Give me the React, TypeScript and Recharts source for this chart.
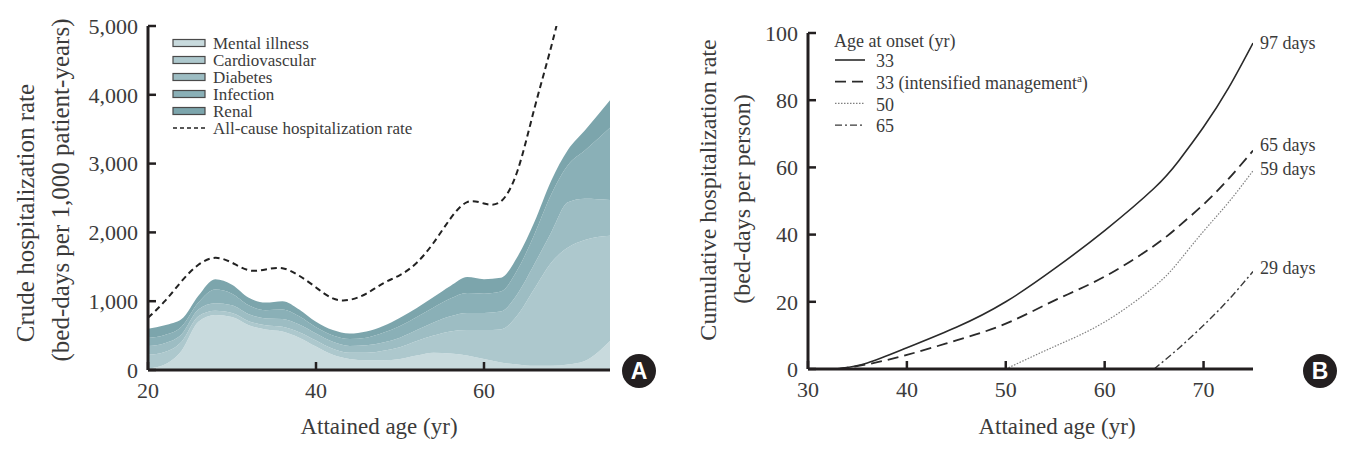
import { Area, AreaChart, Legend, Line, LineChart, XAxis, YAxis } from 'recharts';

// Panel A: crude hospitalization rate by cause (stacked), bed-days per 1,000 patient-years
const ages = [20, 22, 24, 26, 28, 30, 32, 34, 36, 38, 40, 42, 44, 46, 48, 50, 52, 54, 56, 58, 60, 62, 64, 66, 68, 70, 72, 75];
const mentalIllness = [20, 80, 280, 700, 800, 770, 650, 590, 560, 470, 340, 220, 160, 140, 140, 160, 210, 250, 240, 210, 160, 110, 80, 60, 60, 80, 130, 420];
const cardiovascular = [200, 180, 130, 80, 60, 60, 60, 60, 70, 80, 90, 90, 90, 110, 140, 170, 210, 250, 320, 370, 420, 480, 720, 1120, 1500, 1700, 1760, 1530];
const diabetes = [130, 130, 110, 100, 110, 110, 100, 100, 110, 110, 100, 100, 100, 110, 120, 140, 160, 190, 220, 250, 250, 260, 310, 360, 440, 660, 600, 520];
const infection = [115, 120, 110, 100, 200, 170, 130, 120, 140, 120, 90, 90, 100, 110, 140, 170, 190, 220, 260, 290, 280, 290, 350, 430, 550, 540, 700, 1050];
const renal = [135, 140, 110, 100, 150, 130, 110, 110, 120, 100, 80, 80, 80, 90, 100, 120, 130, 150, 180, 230, 210, 200, 190, 180, 200, 220, 290, 400];
const allCause = [760, 1000, 1290, 1530, 1630, 1560, 1450, 1460, 1480, 1370, 1200, 1040, 1020, 1110, 1260, 1380, 1560, 1850, 2200, 2440, 2420, 2450, 2900, 3800, 4700, 5700, null, null];

const causeKeys = ['mental', 'cardio', 'diabetes', 'infection', 'renal'];
const causeNames = ['Mental illness', 'Cardiovascular', 'Diabetes', 'Infection', 'Renal'];
const causeColors = ['#c8dadd', '#adc8cd', '#9dbdc3', '#8ab0b7', '#7ca5ac'];
const allCauseName = 'All-cause hospitalization rate';

const xTicksA = [20, 40, 60];
const yTicksA = [0, 1000, 2000, 3000, 4000, 5000];

// Panel B: cumulative hospitalization rate, bed-days per person
const attainedAges = [33, 36, 40, 45, 50, 55, 60, 65, 67.5, 70, 72.5, 75];
const onset33 = [0, 1.8, 6.3, 12.4, 20, 30, 41.2, 53.8, 62, 72, 83.5, 97];
const onset33Intensified = [0, 1.4, 4.2, 8.5, 13.5, 20.5, 27.5, 36.7, 42.5, 49, 56.5, 65];
const onset50 = [null, null, null, null, 0, 6.8, 14, 24.5, 32, 41, 49.5, 59];
const onset65 = [null, null, null, null, null, null, null, 0, 6.2, 13, 20.5, 29];

const onsetNames = ['33', '33 (intensified management', '50', '65'];
const onsetKeys = ['o33', 'o33i', 'o50', 'o65'];
const onsetDash = ['', '11 6', '1.5 1.5', '7 3 2 3'];
const onsetStroke = ['#2a2a2a', '#2a2a2a', '#808080', '#3a3a3a'];
const onsetWidth = [1.6, 1.8, 1.2, 1.4];
const endLabelShift = [0, -6, -2, -4];

const xTicksB = [30, 40, 50, 60, 70];
const yTicksB = [0, 20, 40, 60, 80, 100];

const serif = "'Liberation Serif', 'Times New Roman', serif";
const textColor = '#3b3b3b';
const axisColor = '#231f20';

const dataA = ages.map((age, i) => ({
  age,
  mental: mentalIllness[i],
  cardio: cardiovascular[i],
  diabetes: diabetes[i],
  infection: infection[i],
  renal: renal[i],
  allCause: allCause[i],
}));

const dataB = attainedAges.map((age, i) => ({
  age,
  o33: onset33[i],
  o33i: onset33Intensified[i],
  o50: onset50[i],
  o65: onset65[i],
}));

const tickStyle = { fill: textColor, fontSize: 22, fontFamily: serif };

function TwoLineTitle({ lines, xs, ys, size }: { lines: string[]; xs: number[]; ys: number[]; size: number }) {
  return (
    <g>
      {lines.map((t, i) => (
        <text
          key={t}
          x={xs[i]}
          y={ys[i]}
          transform={`rotate(-90 ${xs[i]} ${ys[i]})`}
          textAnchor="middle"
          dominantBaseline="central"
          fill={textColor}
          fontSize={size}
          fontFamily={serif}
        >
          {t}
        </text>
      ))}
    </g>
  );
}

function XTitle({ x, text }: { x: number; text: string }) {
  return (
    <text x={x} y={434} textAnchor="middle" fill={textColor} fontSize={23} fontFamily={serif}>
      {text}
    </text>
  );
}

function LegendA() {
  return (
    <svg width={280} height={110} style={{ display: 'block' }}>
      {causeNames.map((name, i) => (
        <g key={name}>
          <rect x={3} y={11 + 17 * i - 3.5} width={32} height={7} fill={causeColors[i]} stroke="#4a4a4a" strokeWidth={1.2} />
          <text x={43} y={11 + 17 * i} dy="0.35em" fill={textColor} fontSize={17} fontFamily={serif}>
            {name}
          </text>
        </g>
      ))}
      <line x1={3} x2={35} y1={96} y2={96} stroke="#222" strokeWidth={1.5} strokeDasharray="4 3" />
      <text x={43} y={96} dy="0.35em" fill={textColor} fontSize={17} fontFamily={serif}>
        {allCauseName}
      </text>
    </svg>
  );
}

function LegendB() {
  return (
    <svg width={280} height={110} style={{ display: 'block' }}>
      <text x={0} y={13} dy="0.35em" fill={textColor} fontSize={18} fontFamily={serif}>
        Age at onset (yr)
      </text>
      {onsetNames.map((name, i) => (
        <g key={name}>
          <line
            x1={1}
            x2={31}
            y1={32 + 21.7 * i}
            y2={32 + 21.7 * i}
            stroke={onsetStroke[i]}
            strokeWidth={onsetWidth[i]}
            strokeDasharray={onsetDash[i] || undefined}
          />
          <text x={42} y={33 + 21.7 * i} dy="0.35em" fill={textColor} fontSize={18} fontFamily={serif}>
            {name}
            {i === 1 ? (
              <>
                <tspan fontSize={11} dy="-7">a</tspan>
                <tspan dy="7">)</tspan>
              </>
            ) : null}
          </text>
        </g>
      ))}
    </svg>
  );
}

const makeEndLabel = (shift: number) => (props: any) => {
  const { x, y, value, index } = props;
  if (index !== attainedAges.length - 1 || value == null) return null;
  return (
    <text x={x + 7} y={y + shift} dy="0.35em" fill={textColor} fontSize={18} fontFamily={serif}>
      {`${value} days`}
    </text>
  );
};

function Badge({ left, letter }: { left: number; letter: string }) {
  return (
    <div
      style={{
        position: 'absolute',
        left: left - 17,
        top: 371 - 17,
        width: 34,
        height: 34,
        borderRadius: '50%',
        background: '#231f20',
        color: '#fff',
        fontFamily: "'Liberation Sans', Arial, sans-serif",
        fontWeight: 700,
        fontSize: 23,
        lineHeight: '34px',
        textAlign: 'center',
      }}
    >
      {letter}
    </div>
  );
}

export default function App() {
  return (
    <div style={{ position: 'absolute', left: 0, top: 0, width: 1351, height: 449, background: '#fff' }}>
      <div style={{ position: 'absolute', left: 0, top: 0 }}>
        <AreaChart width={640} height={449} data={dataA} margin={{ top: 26, right: 30, left: 0, bottom: 0 }}>
          <XAxis
            type="number"
            dataKey="age"
            domain={[20, 75]}
            ticks={xTicksA}
            allowDataOverflow
            height={79}
            tick={tickStyle}
            tickSize={-8}
            tickMargin={20}
            axisLine={{ stroke: axisColor, strokeWidth: 3 }}
            tickLine={{ stroke: axisColor, strokeWidth: 2.5 }}
            label={{ content: () => <XTitle x={379} text="Attained age (yr)" /> }}
          />
          <YAxis
            type="number"
            domain={[0, 5000]}
            ticks={yTicksA}
            allowDataOverflow
            width={148}
            tick={tickStyle}
            tickFormatter={(v: number) => v.toLocaleString('en-US')}
            tickSize={-8}
            tickMargin={18}
            axisLine={{ stroke: axisColor, strokeWidth: 3 }}
            tickLine={{ stroke: axisColor, strokeWidth: 2.5 }}
            label={{
              content: () => (
                <TwoLineTitle
                  lines={['Crude hospitalization rate', '(bed-days per 1,000 patient-years)']}
                  xs={[25, 60]}
                  ys={[213, 190]}
                  size={25}
                />
              ),
            }}
          />
          {causeKeys.map((k, i) => (
            <Area
              key={k}
              type="monotone"
              dataKey={k}
              name={causeNames[i]}
              stackId="causes"
              stroke="none"
              fill={causeColors[i]}
              fillOpacity={1}
              isAnimationActive={false}
            />
          ))}
          <Line
            type="natural"
            dataKey="allCause"
            name={allCauseName}
            stroke="#222"
            strokeWidth={2}
            strokeDasharray="6 4"
            dot={false}
            isAnimationActive={false}
          />
          <Legend
            layout="vertical"
            align="center"
            verticalAlign="middle"
            content={() => <LegendA />}
            wrapperStyle={{ left: 170, top: 32, width: 280, height: 110 }}
          />
        </AreaChart>
      </div>

      <div style={{ position: 'absolute', left: 660, top: 0 }}>
        <LineChart width={691} height={449} data={dataB} margin={{ top: 33, right: 98, left: 0, bottom: 0 }}>
          <XAxis
            type="number"
            dataKey="age"
            domain={[30, 75]}
            ticks={xTicksB}
            allowDataOverflow
            height={80}
            tick={tickStyle}
            tickSize={-8}
            tickMargin={20}
            axisLine={{ stroke: axisColor, strokeWidth: 3 }}
            tickLine={{ stroke: axisColor, strokeWidth: 2.5 }}
            label={{ content: () => <XTitle x={397} text="Attained age (yr)" /> }}
          />
          <YAxis
            type="number"
            domain={[0, 100]}
            ticks={yTicksB}
            allowDataOverflow
            width={148}
            tick={tickStyle}
            tickSize={-8}
            tickMargin={18}
            axisLine={{ stroke: axisColor, strokeWidth: 3 }}
            tickLine={{ stroke: axisColor, strokeWidth: 2.5 }}
            label={{
              content: () => (
                <TwoLineTitle
                  lines={['Cumulative hospitalization rate', '(bed-days per person)']}
                  xs={[48, 82]}
                  ys={[190, 199]}
                  size={24}
                />
              ),
            }}
          />
          {onsetKeys.map((k, i) => (
            <Line
              key={k}
              type="natural"
              dataKey={k}
              name={onsetNames[i]}
              stroke={onsetStroke[i]}
              strokeWidth={onsetWidth[i]}
              strokeDasharray={onsetDash[i] || undefined}
              dot={false}
              label={makeEndLabel(endLabelShift[i])}
              isAnimationActive={false}
            />
          ))}
          <Legend
            layout="vertical"
            align="center"
            verticalAlign="middle"
            content={() => <LegendB />}
            wrapperStyle={{ left: 174, top: 28, width: 280, height: 110 }}
          />
        </LineChart>
      </div>

      <Badge left={639} letter="A" />
      <Badge left={1320} letter="B" />
    </div>
  );
}
